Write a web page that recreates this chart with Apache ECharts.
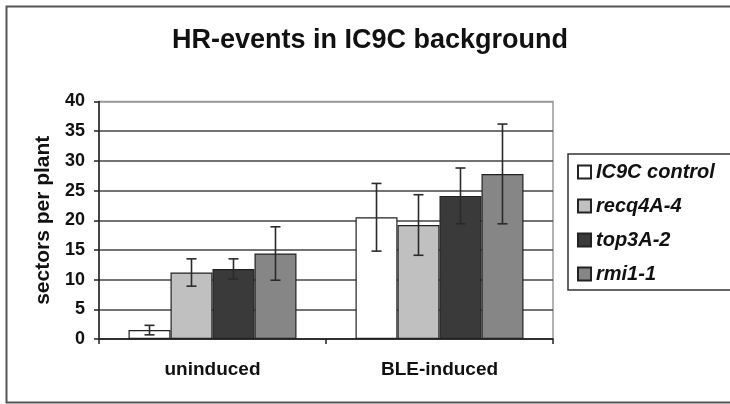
<!DOCTYPE html>
<html>
<head>
<meta charset="utf-8">
<script src="https://cdn.jsdelivr.net/npm/echarts@6/dist/echarts.min.js"></script>
<style>
  html, body { margin: 0; padding: 0; background: #fff; }
  #chart { width: 730px; height: 404px; }
</style>
</head>
<body>
<div id="chart"></div>
<script>
// data
const categories = ["uninduced", "BLE-induced"];
const seriesNames = ["IC9C control", "recq4A-4", "top3A-2", "rmi1-1"];
const controlValues = [1.5, 20.5];
const controlErrors = [0.8, 5.7];
const recq4aValues = [11.2, 19.2];
const recq4aErrors = [2.3, 5.1];
const top3aValues = [11.8, 24.1];
const top3aErrors = [1.7, 4.7];
const rmi1Values = [14.4, 27.8];
const rmi1Errors = [4.5, 8.4];
const yTicks = [0, 5, 10, 15, 20, 25, 30, 35, 40];

const allValues = [controlValues, recq4aValues, top3aValues, rmi1Values];
const allErrors = [controlErrors, recq4aErrors, top3aErrors, rmi1Errors];
const barColors = ["#ffffff", "#c0c0c0", "#3a3a3a", "#868686"];

const font = "'Liberation Sans', Arial, sans-serif";
const catGap = 0.26; // barCategoryGap as fraction

const chart = echarts.init(document.getElementById("chart"));

const barSeries = seriesNames.map((name, i) => ({
  name: name,
  type: "bar",
  data: allValues[i],
  barGap: "0%",
  barCategoryGap: catGap * 100 + "%",
  itemStyle: {
    color: barColors[i],
    borderColor: "#222",
    borderWidth: 1.2
  },
  z: 2
}));

// error bars drawn with a custom series, positioned from the category band
const errorSeries = seriesNames.map((name, i) => ({
  name: name + " err",
  type: "custom",
  z: 5,
  encode: { x: 0, y: [1] },
  data: categories.map((c, j) => [j, allValues[i][j], allErrors[i][j]]),
  renderItem: function (params, api) {
    const cat = api.value(0);
    const v = api.value(1);
    const e = api.value(2);
    const hi = api.coord([cat, v + e]);
    const lo = api.coord([cat, v - e]);
    const band = api.size([1, 0])[0];
    const barW = band * (1 - catGap) / seriesNames.length;
    const x = hi[0] + (i - (seriesNames.length - 1) / 2) * barW;
    const cap = 5;
    const st = { stroke: "#2a2a2a", lineWidth: 1.6 };
    return {
      type: "group",
      children: [
        { type: "line", shape: { x1: x, y1: hi[1], x2: x, y2: lo[1] }, style: st },
        { type: "line", shape: { x1: x - cap, y1: hi[1], x2: x + cap, y2: hi[1] }, style: st },
        { type: "line", shape: { x1: x - cap, y1: lo[1], x2: x + cap, y2: lo[1] }, style: st }
      ]
    };
  }
}));

chart.setOption({
  animation: false,
  backgroundColor: "#fff",
  textStyle: { fontFamily: font },
  graphic: [
    {
      // outer frame: left, top and bottom only (right side runs off the picture)
      type: "polyline",
      shape: { points: [[760, 6.5], [6.5, 6.5], [6.5, 402.5], [760, 402.5]] },
      style: { fill: null, stroke: "#555", lineWidth: 2 }
    }
  ],
  title: {
    text: "HR-events in IC9C background",
    left: 172,
    top: 27,
    padding: 0,
    textStyle: { fontFamily: font, fontSize: 27, fontWeight: "bold", color: "#111" }
  },
  legend: {
    data: seriesNames,
    orient: "vertical",
    left: 568,
    top: 154,
    icon: "rect",
    itemWidth: 13,
    itemHeight: 13,
    itemGap: 14,
    padding: [8, 40, 6, 9],
    borderColor: "#333",
    borderWidth: 1.5,
    textStyle: { fontFamily: font, fontSize: 20, fontWeight: "bold", fontStyle: "italic", color: "#111" }
  },
  grid: {
    left: 99,
    right: 177,
    top: 101.5,
    bottom: 65,
    show: true,
    borderColor: "#999",
    borderWidth: 1.5
  },
  xAxis: {
    type: "category",
    data: categories,
    axisLine: { lineStyle: { color: "#222", width: 1.5 } },
    axisTick: { show: true, length: 5, lineStyle: { color: "#222", width: 1.5 } },
    axisLabel: { margin: 21, fontFamily: font, fontSize: 19, fontWeight: "bold", color: "#111" },
    splitLine: { show: false }
  },
  yAxis: {
    type: "value",
    min: yTicks[0],
    max: yTicks[yTicks.length - 1],
    interval: yTicks[1] - yTicks[0],
    name: "sectors per plant",
    nameLocation: "middle",
    nameGap: 42,
    nameTextStyle: { fontFamily: font, fontSize: 21, fontWeight: "bold", color: "#111" },
    axisLine: { show: true, lineStyle: { color: "#222", width: 1.5 } },
    axisTick: { show: true, length: 5, lineStyle: { color: "#222", width: 1.5 } },
    axisLabel: { margin: 14, fontFamily: font, fontSize: 18, fontWeight: "bold", color: "#111" },
    splitLine: {
      show: true,
      lineStyle: {
        color: ["#444", "#444", "#444", "#444", "#444", "#444", "#444", "#444", "#999"],
        width: 1.5
      }
    }
  },
  series: barSeries.concat(errorSeries)
});
</script>
</body>
</html>
